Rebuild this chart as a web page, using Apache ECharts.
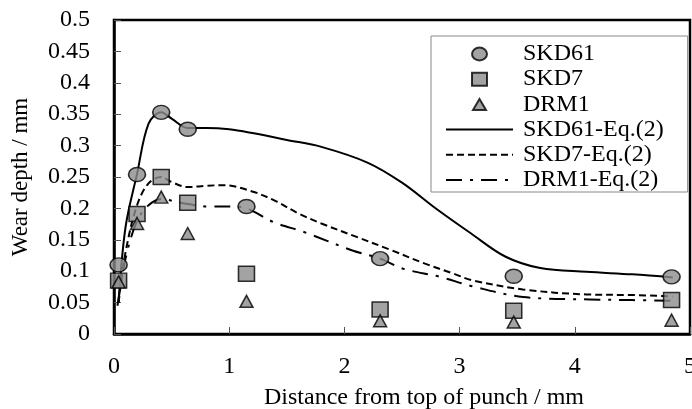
<!DOCTYPE html>
<html>
<head>
<meta charset="utf-8">
<script src="https://cdn.jsdelivr.net/npm/echarts@6/dist/echarts.min.js"></script>
<style>
html, body { margin: 0; padding: 0; background: #fff; }
#chart { width: 692px; height: 409px; }
</style>
</head>
<body>
<div id="chart"></div>
<script>
// Measured wear depth (mm) against distance from the punch top (mm)
const distance = [0.04, 0.2, 0.41, 0.64, 1.15, 2.31, 3.47, 4.84];
const skd61 = [0.110, 0.254, 0.353, 0.326, 0.203, 0.120, 0.092, 0.091];
const skd7  = [0.085, 0.191, 0.250, 0.209, 0.096, 0.039, 0.037, 0.054];
const drm1  = [0.083, 0.176, 0.218, 0.160, 0.052, 0.021, 0.019, 0.022];

// Wear depth predicted by Eq.(2)
const skd61EqX = [0.04, 0.1, 0.2, 0.3, 0.41, 0.5, 0.64, 0.8, 1.0, 1.2, 1.5, 1.8, 2.2, 2.5, 2.8, 3.1, 3.4, 3.7, 4.1, 4.5, 4.85];
const skd61EqY = [0.05, 0.17, 0.255, 0.335, 0.353, 0.343, 0.328, 0.328, 0.326, 0.320, 0.309, 0.298, 0.273, 0.241, 0.199, 0.160, 0.123, 0.105, 0.099, 0.095, 0.090];
const skd7EqX  = [0.04, 0.1, 0.2, 0.3, 0.41, 0.5, 0.64, 0.8, 0.95, 1.2, 1.4, 1.6, 1.8, 2.1, 2.4, 2.7, 2.95, 3.1, 3.55, 4.1, 4.5, 4.85];
const skd7EqY  = [0.05, 0.13, 0.205, 0.24, 0.25, 0.242, 0.234, 0.236, 0.237, 0.227, 0.212, 0.192, 0.176, 0.155, 0.134, 0.112, 0.096, 0.086, 0.071, 0.063, 0.062, 0.060];
const drm1EqX  = [0.03, 0.1, 0.2, 0.3, 0.41, 0.55, 0.64, 0.83, 1.03, 1.15, 1.4, 1.64, 2.07, 2.31, 2.51, 2.83, 3.11, 3.55, 4.13, 4.5, 4.85];
const drm1EqY  = [0.045, 0.12, 0.18, 0.205, 0.215, 0.21, 0.207, 0.203, 0.203, 0.200, 0.177, 0.163, 0.133, 0.120, 0.104, 0.091, 0.076, 0.059, 0.055, 0.054, 0.053];

const xTicks = [0, 1, 2, 3, 4, 5];

const FONT = '"Liberation Serif", "Times New Roman", serif';
const pair = (xs, ys) => xs.map((x, i) => [x, ys[i]]);

const markerStyle = { color: '#8c8c8c', borderColor: '#000', borderWidth: 1.5 };

// Legend glyphs laid out in the full 67x14 icon box so they keep their proportions
const ICON_BOX = 'M0,0M67,14';
const legendCircle = 'path://' + ICON_BOX + 'M26,7A7.5,6.5 0 1,1 41,7A7.5,6.5 0 1,1 26,7Z';
const legendSquare = 'path://' + ICON_BOX + 'M26,0.5L41,0.5L41,13.5L26,13.5Z';
const legendTriangle = 'path://' + ICON_BOX + 'M33.5,1.5L40,12.5L27,12.5Z';

const chart = echarts.init(document.getElementById('chart'), null, { renderer: 'canvas' });

chart.setOption({
  animation: false,
  backgroundColor: '#fff',
  textStyle: { fontFamily: FONT, color: '#000' },
  grid: {
    left: 114, right: 2, top: 20, bottom: 75,
    outerBoundsMode: 'none',
    containLabel: false,
    show: true, borderColor: '#000', borderWidth: 2.5, backgroundColor: 'transparent'
  },
  legend: {
    orient: 'vertical',
    left: 431, top: 36,
    padding: [6, 24, 0, 14],
    itemGap: 1.2,
    itemWidth: 67,
    itemHeight: 14,
    backgroundColor: '#fff',
    borderColor: '#888',
    borderWidth: 1,
    textStyle: { fontFamily: FONT, fontSize: 24, color: '#000', lineHeight: 22, padding: [0, 0, 0, 5] },
    data: [
      { name: 'SKD61', icon: legendCircle },
      { name: 'SKD7', icon: legendSquare },
      { name: 'DRM1', icon: legendTriangle },
      { name: 'SKD61-Eq.(2)', itemStyle: { opacity: 0 } },
      { name: 'SKD7-Eq.(2)', itemStyle: { opacity: 0 } },
      { name: 'DRM1-Eq.(2)', itemStyle: { opacity: 0 } }
    ]
  },
  xAxis: {
    type: 'value',
    min: xTicks[0], max: xTicks[xTicks.length - 1], interval: 1,
    name: 'Distance from top of punch / mm',
    nameLocation: 'middle',
    nameGap: 52,
    nameTextStyle: { fontFamily: FONT, fontSize: 24, color: '#000', padding: [0, 0, 0, 44] },
    axisLine: { lineStyle: { color: '#000', width: 2.5 } },
    axisTick: { inside: true, length: 7, lineStyle: { color: '#555', width: 1 } },
    axisLabel: { fontFamily: FONT, fontSize: 24, color: '#000', margin: 21 },
    splitLine: { show: false }
  },
  yAxis: {
    type: 'value',
    min: 0, max: 0.5, interval: 0.05,
    name: 'Wear depth / mm',
    nameLocation: 'middle',
    nameGap: 82,
    nameTextStyle: { fontFamily: FONT, fontSize: 23, color: '#000' },
    axisLine: { lineStyle: { color: '#000', width: 2.5 } },
    axisTick: { inside: true, length: 7, lineStyle: { color: '#555', width: 1 } },
    axisLabel: { fontFamily: FONT, fontSize: 24, color: '#000', margin: 24 },
    splitLine: { show: false }
  },
  series: [
    {
      name: 'SKD61-Eq.(2)', type: 'line', data: pair(skd61EqX, skd61EqY),
      showSymbol: false, symbol: 'none', smooth: 0.35,
      lineStyle: { color: '#000', width: 2, type: 'solid' }, itemStyle: { color: '#000' }, z: 2
    },
    {
      name: 'SKD7-Eq.(2)', type: 'line', data: pair(skd7EqX, skd7EqY),
      showSymbol: false, symbol: 'none', smooth: 0.35,
      lineStyle: { color: '#000', width: 2, type: [7, 4] }, itemStyle: { color: '#000' }, z: 2
    },
    {
      name: 'DRM1-Eq.(2)', type: 'line', data: pair(drm1EqX, drm1EqY),
      showSymbol: false, symbol: 'none', smooth: 0.35,
      lineStyle: { color: '#000', width: 2, type: [16, 8, 3, 8] }, itemStyle: { color: '#000' }, z: 2
    },
    {
      name: 'SKD61', type: 'scatter', data: pair(distance, skd61),
      symbol: 'circle', symbolSize: [17, 14], itemStyle: markerStyle, z: 5
    },
    {
      name: 'SKD7', type: 'scatter', data: pair(distance, skd7),
      symbol: 'rect', symbolSize: [16, 15], itemStyle: markerStyle, z: 6
    },
    {
      name: 'DRM1', type: 'scatter', data: pair(distance, drm1),
      symbol: 'triangle', symbolSize: [13, 12], itemStyle: markerStyle, z: 7
    }
  ]
});
</script>
</body>
</html>
